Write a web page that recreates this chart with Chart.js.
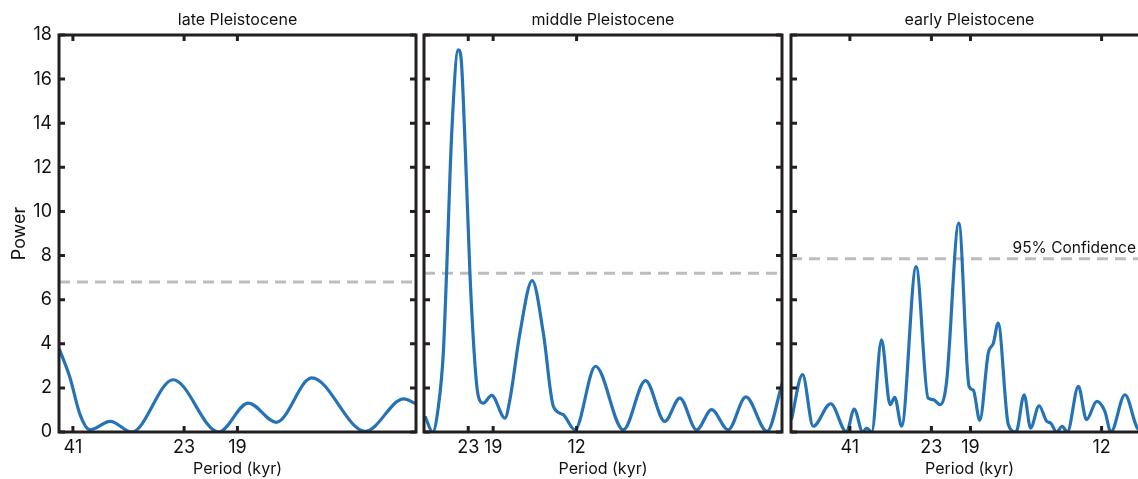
<!DOCTYPE html>
<html>
<head>
  <meta charset="UTF-8">
  <title>Power spectra - Pleistocene</title>
  <script src="https://cdn.jsdelivr.net/npm/chart.js"></script>
  <style>
    body { margin: 0; width: 1138px; height: 479px; overflow: hidden; position: relative; background: #fff; }
    .panel { position: absolute; top: 0; height: 479px; }
    #p1 { left: 0; width: 420px; }
    #p2 { left: 420px; width: 366px; }
    #p3 { left: 787px; width: 365px; }
  </style>
</head>
<body>
  <div class="panel" id="p1"><canvas id="c1" width="420" height="479"></canvas></div>
  <div class="panel" id="p2"><canvas id="c2" width="366" height="479"></canvas></div>
  <div class="panel" id="p3"><canvas id="c3" width="365" height="479"></canvas></div>

  <script>
    // frequency (1/kyr) and power
    var lateFreq  = [0.0220, 0.0239, 0.0256, 0.0273, 0.0308, 0.0345, 0.0416, 0.0494, 0.0545, 0.0593, 0.0654, 0.0746, 0.0812, 0.0833];
    var latePower = [3.8, 2.45, 0.8, 0.1, 0.48, 0.0, 2.37, 0.0, 1.31, 0.44, 2.45, 0.03, 1.5, 1.28];

    var middleFreq  = [0.0276, 0.0304, 0.0325, 0.0343, 0.0355, 0.0374, 0.0398, 0.0408, 0.0423, 0.0441, 0.0460, 0.0472, 0.0490, 0.0521,
                       0.0570, 0.0588, 0.0625, 0.0670, 0.0711, 0.0748, 0.0784, 0.0827, 0.0903, 0.1005, 0.1087, 0.1158, 0.1213,
                       0.1275, 0.1330, 0.1391, 0.1456, 0.1534, 0.1590];
    var middlePower = [0.71, 0.0, 1.16, 3.58, 7.2, 13.55, 17.33, 17.0, 13.1, 7.2, 2.98, 1.62, 1.31, 1.66,
                       0.63, 1.47, 4.49, 6.86, 4.49, 1.16, 0.79, 0.1, 2.98, 0.1, 2.33, 0.48, 1.54,
                       0.1, 1.01, 0.1, 1.59, 0.03, 2.22];

    var earlyFreq  = [0.0107, 0.0133, 0.0158, 0.0199, 0.0236, 0.0254, 0.0274, 0.0283, 0.0295, 0.0318, 0.0338, 0.0349, 0.0365,
                      0.0399, 0.0427, 0.0439, 0.0455, 0.0470, 0.0499, 0.0523, 0.0533, 0.0548, 0.0568, 0.0580, 0.0591,
                      0.0615, 0.0633, 0.0652, 0.0667, 0.0687, 0.0705, 0.0714, 0.0728, 0.0741, 0.0753, 0.0779, 0.0798,
                      0.0822, 0.0841, 0.0855, 0.0888, 0.0917, 0.0930];
    var earlyPower = [0.56, 2.6, 0.26, 1.28, 0.0, 1.04, 0.0, 0.18, 0.0, 4.18, 1.24, 1.57, 0.26,
                      7.5, 1.54, 1.47, 1.24, 2.22, 9.47, 2.07, 1.89, 0.53, 3.58, 4.03, 4.94,
                      0.33, 0.0, 1.69, 0.18, 1.19, 0.48, 0.41, 0.0, 0.26, 0.0, 2.07, 0.56,
                      1.39, 0.94, 0.0, 1.69, 0.18, 0.05];

    // x limits (frequency) and period tick labels of each panel
    var lateRange = [0.0220, 0.0833];
    var middleRange = [0.0272, 0.1589];
    var earlyRange = [0.0106, 0.0942];
    var latePeriodTicks = [41, 23, 19];
    var middlePeriodTicks = [23, 19, 12];
    var earlyPeriodTicks = [41, 23, 19, 12];

    // 95% confidence level of each panel
    var lateConfidence = 6.8;
    var middleConfidence = 7.2;
    var earlyConfidence = 7.85;

    var yTicks = [0, 2, 4, 6, 8, 10, 12, 14, 16, 18];

    var FONT = "Inter, 'Liberation Sans', sans-serif";
    var INK = "#231f20";
    var BLUE = "#2573b6";

    // frame, inward tick marks and confidence label
    var framePlugin = {
      id: "frame",
      afterDatasetsDraw: function (chart) {
        var ctx = chart.ctx, a = chart.chartArea;
        var xs = chart.scales.x, ys = chart.scales.y;
        var o = chart.options.plugins.frame;
        ctx.save();
        ctx.strokeStyle = INK;
        ctx.lineWidth = 3;
        ctx.strokeRect(a.left, a.top, a.right - a.left, a.bottom - a.top);
        var len = 6;
        ctx.beginPath();
        yTicks.forEach(function (v) {
          var py = ys.getPixelForValue(v);
          ctx.moveTo(a.left, py); ctx.lineTo(a.left + len, py);
          ctx.moveTo(a.right, py); ctx.lineTo(a.right - len, py);
        });
        o.periods.forEach(function (p) {
          var px = xs.getPixelForValue(1 / p);
          ctx.moveTo(px, a.top); ctx.lineTo(px, a.top + len);
          ctx.moveTo(px, a.bottom); ctx.lineTo(px, a.bottom - len);
        });
        ctx.stroke();
        if (o.label) {
          ctx.fillStyle = "#111";
          ctx.font = "15.5px " + FONT;
          ctx.textAlign = "right";
          ctx.textBaseline = "bottom";
          ctx.fillText(o.label, a.right - 12, ys.getPixelForValue(o.level) - 3);
        }
        ctx.restore();
      }
    };

    function makePanel(id, title, freq, power, range, periods, level, showY, pad, label) {
      var pts = freq.map(function (f, i) { return { x: f, y: power[i] }; });
      return new Chart(document.getElementById(id), {
        type: "line",
        data: {
          datasets: [
            { data: pts, borderColor: BLUE, borderWidth: 3.2, pointRadius: 0, fill: false, cubicInterpolationMode: "monotone" },
            { data: [{ x: range[0], y: level }, { x: range[1], y: level }], borderColor: "#bdbdbd", borderWidth: 3,
              borderDash: [11, 7], pointRadius: 0, fill: false }
          ]
        },
        options: {
          responsive: false,
          animation: false,
          events: [],
          layout: { padding: pad },
          plugins: {
            legend: { display: false },
            tooltip: { enabled: false },
            title: { display: true, text: title, fullSize: false, color: "#111",
                     font: { family: FONT, size: 16, weight: "normal" }, padding: { top: 10.5, bottom: 5.3 } },
            frame: { periods: periods, level: level, label: label }
          },
          scales: {
            x: {
              type: "linear", min: range[0], max: range[1],
              afterBuildTicks: function (s) { s.ticks = periods.map(function (p) { return { value: 1 / p }; }); },
              afterFit: function (s) { s.height = 47; },
              grid: { display: false, drawTicks: false }, border: { display: false },
              ticks: { autoSkip: false, maxRotation: 0, padding: 5, color: "#111",
                       font: { family: FONT, size: 18 },
                       callback: function (v) { return Math.round(1 / v); } },
              title: { display: true, text: "Period (kyr)", color: "#111",
                       font: { family: FONT, size: 16 }, padding: { top: 0, bottom: 0 } }
            },
            y: {
              min: 0, max: 18, display: showY,
              afterFit: function (s) { s.width = showY ? 59 : 0; },
              grid: { display: false, drawTicks: false }, border: { display: false },
              ticks: { stepSize: 2, padding: 7, color: "#111", font: { family: FONT, size: 18 } },
              title: { display: true, text: "Power", color: "#111",
                       font: { family: FONT, size: 18 }, padding: { top: 9, bottom: 0 } }
            }
          }
        },
        plugins: [framePlugin]
      });
    }

    makePanel("c1", "late Pleistocene", lateFreq, latePower, lateRange, latePeriodTicks, lateConfidence, true,
              { left: 0, right: 4, top: 0, bottom: 0 }, null);
    makePanel("c2", "middle Pleistocene", middleFreq, middlePower, middleRange, middlePeriodTicks, middleConfidence, false,
              { left: 4, right: 4, top: 0, bottom: 0 }, null);
    makePanel("c3", "early Pleistocene", earlyFreq, earlyPower, earlyRange, earlyPeriodTicks, earlyConfidence, false,
              { left: 4, right: 4, top: 0, bottom: 0 }, "95% Confidence");
  </script>
</body>
</html>
